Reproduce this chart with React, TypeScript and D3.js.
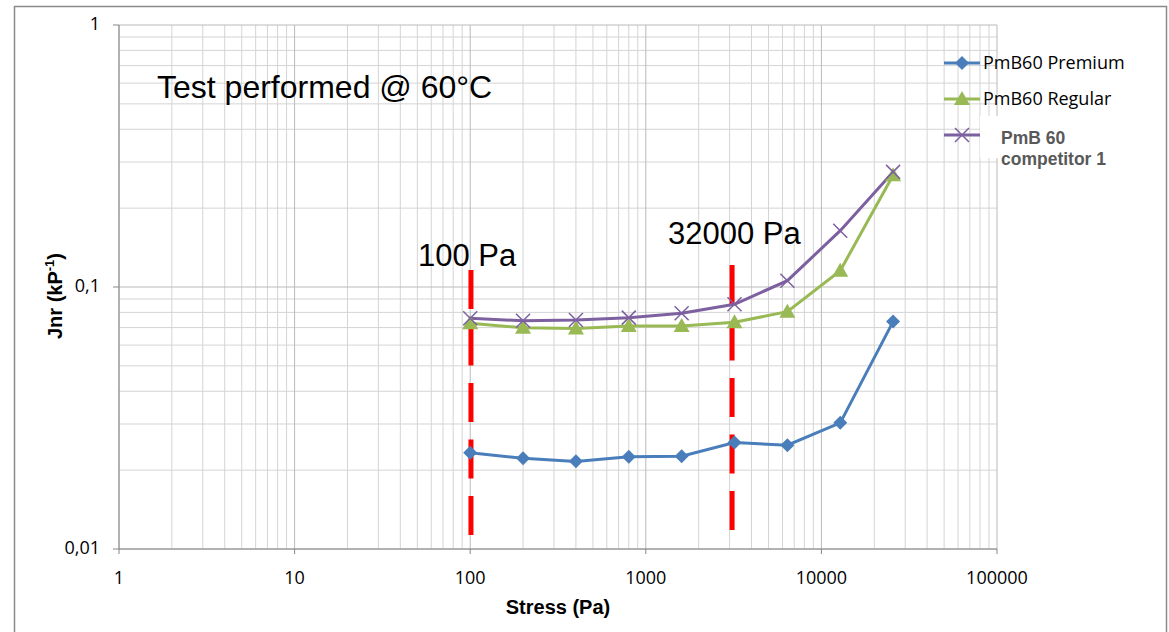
import React from "react";
import * as d3 from "d3";

const stress = [100, 200, 400, 800, 1600, 3200, 6400, 12800, 25600];
const premium = [0.0233, 0.0222, 0.0216, 0.0225, 0.0226, 0.0255, 0.0249, 0.0303, 0.0738];
const regular = [0.0727, 0.0699, 0.0695, 0.071, 0.071, 0.0733, 0.0805, 0.1154, 0.267];
const competitor = [0.076, 0.0743, 0.0748, 0.0764, 0.0794, 0.0859, 0.1057, 0.164, 0.275];
const xTicks = [1, 10, 100, 1000, 10000, 100000];
const xTickLabels = ["1", "10", "100", "1000", "10000", "100000"];
const yTicks = [0.01, 0.1, 1];
const yTickLabels = ["0,01", "0,1", "1"];
const refLines = [
  { x: 101, y0: 0.1161, y1: 0.01131 },
  { x: 3100, y0: 0.1213, y1: 0.01175 },
];

const W = 1169, H = 632;
const L = 119, R = 997, T = 25, B = 549;

export default function App() {
  const x = d3.scaleLog().domain([1, 100000]).range([L, R]);
  const y = d3.scaleLog().domain([0.01, 1]).range([B, T]);

  const minorX: number[] = [];
  for (let d = 1; d < 100000; d *= 10) for (let k = 2; k <= 9; k++) minorX.push(d * k);
  const minorY: number[] = [];
  for (let d = 0.01; d < 0.99; d *= 10) for (let k = 2; k <= 9; k++) minorY.push(d * k);

  const line = d3.line<[number, number]>().x(d => x(d[0])).y(d => y(d[1]));
  const pts = (vals: number[]) => stress.map((s, i) => [s, vals[i]] as [number, number]);

  const blue = "#4A7EBB", green = "#98B954", purple = "#7D60A0";

  const diamond = (cx: number, cy: number, c: string, key?: any) => (
    <path key={key} d={`M${cx},${cy - 7}L${cx + 7},${cy}L${cx},${cy + 7}L${cx - 7},${cy}Z`} fill={c} />
  );
  const tri = (cx: number, cy: number, c: string, key?: any) => (
    <path key={key} d={`M${cx},${cy - 8}L${cx + 8},${cy + 6}L${cx - 8},${cy + 6}Z`} fill={c} />
  );
  const cross = (cx: number, cy: number, c: string, key?: any) => (
    <path key={key} d={`M${cx - 7},${cy - 7}L${cx + 7},${cy + 7}M${cx + 7},${cy - 7}L${cx - 7},${cy + 7}`} stroke={c} strokeWidth={1.5} fill="none" />
  );

  const tickFont = "'Open Sans', 'Liberation Sans', Arial";

  return (
    <svg width={W} height={H} style={{ position: "absolute", left: 0, top: 0, background: "#fff" }}
      fontFamily="'Liberation Sans', Arial, sans-serif">
      <rect x={14.5} y={6.5} width={1152} height={640} fill="#fff" stroke="#8a8a8a" strokeWidth={1.5} />
      {/* minor grid */}
      {minorX.map((v, i) => (
        <line key={"mx" + i} x1={x(v)} x2={x(v)} y1={T} y2={B} stroke="#d4d4d4" strokeWidth={1} />
      ))}
      {minorY.map((v, i) => (
        <line key={"my" + i} x1={L} x2={R} y1={y(v)} y2={y(v)} stroke="#d4d4d4" strokeWidth={1} />
      ))}
      {/* major grid */}
      {xTicks.map((v, i) => (
        <line key={"Mx" + i} x1={x(v)} x2={x(v)} y1={T} y2={B} stroke="#bababa" strokeWidth={1} />
      ))}
      {yTicks.map((v, i) => (
        <line key={"My" + i} x1={L} x2={R} y1={y(v)} y2={y(v)} stroke="#bababa" strokeWidth={1} />
      ))}
      {/* axes */}
      <line x1={L} x2={L} y1={T} y2={B} stroke="#868686" />
      <line x1={L} x2={R} y1={B} y2={B} stroke="#868686" />
      {yTicks.map((v, i) => (
        <line key={"yt" + i} x1={L - 6} x2={L} y1={y(v)} y2={y(v)} stroke="#868686" />
      ))}
      {xTicks.map((v, i) => (
        <line key={"xt" + i} x1={x(v)} x2={x(v)} y1={B} y2={B + 5} stroke="#868686" />
      ))}
      {yTicks.map((v, i) => (
        <text key={"yl" + i} x={L - 19} y={y(v)} dy="0.3em" textAnchor="end" fontSize={18}
          fontFamily={tickFont} fill="#000">{yTickLabels[i]}</text>
      ))}
      {xTicks.map((v, i) => (
        <text key={"xl" + i} x={x(v)} y={584} textAnchor="middle" fontSize={18}
          fontFamily={tickFont} fill="#000">{xTickLabels[i]}</text>
      ))}
      <text x={558} y={614} textAnchor="middle" fontSize={20} fontWeight="bold">Stress (Pa)</text>
      <text transform="translate(62,296) rotate(-90)" textAnchor="middle" fontSize={20} fontWeight="bold">
        Jnr (kP<tspan dy={-8} fontSize={13}>-1</tspan><tspan dy={8}>)</tspan>
      </text>

      {/* reference lines */}
      {refLines.map((r, i) => (
        <line key={"rl" + i} x1={x(r.x)} x2={x(r.x)} y1={y(r.y0)} y2={y(r.y1)} stroke="#FF0000"
          strokeWidth={5} strokeDasharray="39,17.5" />
      ))}

      {/* series */}
      <path d={line(pts(premium)) || ""} fill="none" stroke={blue} strokeWidth={3} />
      <path d={line(pts(regular)) || ""} fill="none" stroke={green} strokeWidth={3} />
      <path d={line(pts(competitor)) || ""} fill="none" stroke={purple} strokeWidth={3} />
      {pts(premium).map((p, i) => diamond(x(p[0]), y(p[1]), blue, "pd" + i))}
      {pts(regular).map((p, i) => tri(x(p[0]), y(p[1]), green, "rt" + i))}
      {pts(competitor).map((p, i) => cross(x(p[0]), y(p[1]), purple, "cx" + i))}

      {/* annotations */}
      <text x={157} y={98} fontSize={32}>Test performed @ 60°C</text>
      <text x={418} y={266} fontSize={31}>100 Pa</text>
      <text x={668} y={244} fontSize={31}>32000 Pa</text>

      {/* legend */}
      <line x1={944} x2={980} y1={63} y2={63} stroke={blue} strokeWidth={3} />
      {diamond(962, 63, blue)}
      <text x={983} y={63} dy="0.35em" fontSize={18} fontFamily={tickFont}>PmB60 Premium</text>
      <line x1={944} x2={980} y1={99} y2={99} stroke={green} strokeWidth={3} />
      {tri(962, 99, green)}
      <text x={983} y={99} dy="0.35em" fontSize={18} fontFamily={tickFont}>PmB60 Regular</text>
      <line x1={944} x2={980} y1={135} y2={135} stroke={purple} strokeWidth={3} />
      {cross(962, 135, purple)}
      <rect x={980} y={116} width={130} height={42} fill="#fff" />
      <text x={1001} y={144} fontSize={17.5} fontWeight="bold" fill="#595959">PmB 60</text>
      <text x={1001} y={165} fontSize={17.5} fontWeight="bold" fill="#595959">competitor  1</text>
    </svg>
  );
}
